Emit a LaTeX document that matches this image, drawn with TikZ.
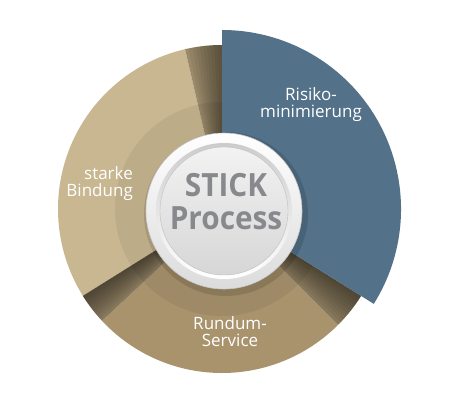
\documentclass[tikz,border=0pt]{standalone}
\usepackage{fontspec}
\setmainfont{Open Sans}
\usepackage{xcolor}
\usepackage{tikz}
\usetikzlibrary{positioning}

\definecolor{riskblue}{HTML}{537189}
\definecolor{tanlight}{HTML}{C8B791}
\definecolor{tanmid}{HTML}{A8936D}
\definecolor{tanstrip}{HTML}{A39270}
\definecolor{tandark}{HTML}{8E7F61}
\definecolor{silvertext}{HTML}{87898C}

\begin{document}
\begin{tikzpicture}[x=1pt, y=1pt]
\tikzstyle{sectorlabel} = [text=white, font=\fontsize{17}{17}\selectfont, inner sep=0pt]
\tikzstyle{rim} = [circle, minimum size=156pt, inner sep=0pt, top color=white, bottom color=black!14, draw=black!22, line width=0.6pt]
\tikzstyle{groove} = [circle, minimum size=136pt, inner sep=0pt, top color=black!20, bottom color=white]
\tikzstyle{face} = [circle, minimum size=128pt, inner sep=0pt, top color=black!5, bottom color=black!16, draw=black!25, line width=0.4pt]

\useasboundingbox (0,0) rectangle (457,400);
\coordinate (c) at (222,191);

% tan sectors and the shadow strips between them
\fill[tanlight] (c) -- ++(103:164) arc (103:212:164) -- cycle;
\fill[tanmid] (c) -- ++(223:164) arc (223:315:164) -- cycle;
\fill[tanstrip] (c) -- ++(90:164) arc (90:103:164) -- cycle;
\fill[tandark] (c) -- ++(212:164) arc (212:223:164) -- cycle;
\fill[tandark] (c) -- ++(315:164) arc (315:328:164) -- cycle;
\foreach \a/\b in {90/103, 212/223, 328/315}
  \foreach \k in {1,...,10}
    \fill[black, opacity=0.05] (c) -- ++(\a:164) arc[start angle=\a, end angle={\a+(\b-\a)*\k/10}, radius=164] -- cycle;

% inner ring round the hub
\fill[black, opacity=0.06] (c) circle (107);

% blue sector
\fill[riskblue] (c) -- ++(-32:179) arc (-32:90:179) -- cycle;

% hub
\fill[black, opacity=0.12] ([shift={(4,-5)}]c) circle (82);
\node (rim) [rim] at ([shift={(2,-2)}]c) {};
\node (groove) [groove] at (rim.center) {};
\node (hub) [face] at (rim.center) {};
\node (title) [text=silvertext, font=\fontsize{32}{33}\bfseries, align=center, xscale=0.93, transform shape] at ([shift={(2,9)}]hub.center) {STICK\\Process};

% labels
\node (risk) [sectorlabel, align=center] at (311,295) {Risiko-\\minimierung};
\node (bond) [sectorlabel, align=right, anchor=east] at (133,216) {starke\\Bindung};
\node (service) [sectorlabel, align=center] at (230,68) {Rundum-\\Service};

\end{tikzpicture}
\end{document}
